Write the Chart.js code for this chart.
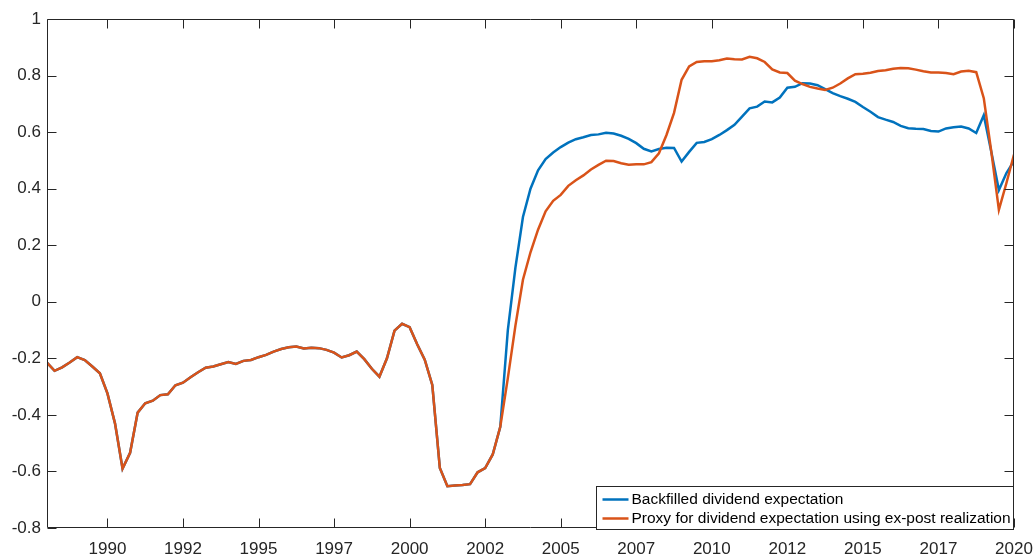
<!DOCTYPE html>
<html lang="es">
<head>
<meta charset="utf-8">
<title>Expectativa de dividendos</title>
<script src="https://cdn.jsdelivr.net/npm/chart.js@4.4.1/dist/chart.umd.min.js"></script>
<style>
  html, body { margin: 0; padding: 0; background: #fff; }
  #grafico { display: block; }
</style>
</head>
<body>
<canvas id="grafico" width="1034" height="555"></canvas>
<script>
// Serie trimestral desde 1988T1 hasta 2020T1
const anioInicio = 1988;
const anioFin = 2020;

// Expectativa de dividendos rellenada hacia atrás
const serieRellenada = [
    -0.215, -0.244, -0.232, -0.215, -0.196, -0.206, -0.229, -0.253,
    -0.324, -0.430, -0.590, -0.534, -0.392, -0.359, -0.350, -0.330,
    -0.327, -0.295, -0.286, -0.267, -0.249, -0.233, -0.229, -0.221,
    -0.213, -0.220, -0.209, -0.206, -0.196, -0.188, -0.176, -0.167,
    -0.161, -0.158, -0.165, -0.163, -0.164, -0.170, -0.180, -0.197,
    -0.189, -0.176, -0.203, -0.237, -0.265, -0.200, -0.102, -0.078,
    -0.090, -0.150, -0.205, -0.294, -0.588, -0.652, -0.650, -0.648,
    -0.645, -0.603, -0.588, -0.540, -0.442, -0.100, 0.120, 0.300,
    0.400, 0.465, 0.505, 0.528, 0.547, 0.563, 0.575, 0.582,
    0.590, 0.592, 0.598, 0.595, 0.587, 0.576, 0.561, 0.541,
    0.532, 0.540, 0.545, 0.544, 0.496, 0.530, 0.562, 0.565,
    0.575, 0.590, 0.607, 0.626, 0.655, 0.684, 0.690, 0.708,
    0.705, 0.722, 0.757, 0.760, 0.773, 0.772, 0.766, 0.752,
    0.738, 0.727, 0.718, 0.707, 0.689, 0.672, 0.653, 0.644,
    0.636, 0.622, 0.614, 0.612, 0.611, 0.604, 0.602, 0.613,
    0.617, 0.620, 0.613, 0.597, 0.660, 0.530, 0.395, 0.455,
    0.498
];

// Proxy con la realización ex-post
const serieProxy = [
    -0.215, -0.244, -0.232, -0.215, -0.196, -0.206, -0.229, -0.253,
    -0.324, -0.430, -0.590, -0.534, -0.392, -0.359, -0.350, -0.330,
    -0.327, -0.295, -0.286, -0.267, -0.249, -0.233, -0.229, -0.221,
    -0.213, -0.220, -0.209, -0.206, -0.196, -0.188, -0.176, -0.167,
    -0.161, -0.158, -0.165, -0.163, -0.164, -0.170, -0.180, -0.197,
    -0.189, -0.176, -0.203, -0.237, -0.265, -0.200, -0.102, -0.078,
    -0.090, -0.150, -0.205, -0.294, -0.588, -0.652, -0.650, -0.648,
    -0.645, -0.603, -0.588, -0.540, -0.442, -0.270, -0.085, 0.078,
    0.175, 0.255, 0.320, 0.357, 0.378, 0.410, 0.430, 0.447,
    0.468, 0.484, 0.499, 0.498, 0.490, 0.485, 0.486, 0.486,
    0.494, 0.525, 0.590, 0.668, 0.785, 0.832, 0.848, 0.851,
    0.851, 0.854, 0.860, 0.858, 0.857, 0.866, 0.861, 0.848,
    0.822, 0.811, 0.809, 0.782, 0.770, 0.760, 0.754, 0.749,
    0.757, 0.772, 0.790, 0.805, 0.806, 0.810, 0.816, 0.819,
    0.824, 0.827, 0.826, 0.821, 0.815, 0.811, 0.811, 0.809,
    0.805, 0.814, 0.817, 0.812, 0.720, 0.530, 0.325, 0.420,
    0.521
];

const etiquetasSeries = [
    'Backfilled dividend expectation',
    'Proxy for dividend expectation using ex-post realization'
];

// Marcas del eje x (cada 2.5 años) y sus etiquetas
const ticksX = [1990, 1992.5, 1995, 1997.5, 2000, 2002.5, 2005, 2007.5, 2010, 2012.5, 2015, 2017.5, 2020];
const etiquetasX = ['1990', '1992', '1995', '1997', '2000', '2002', '2005', '2007', '2010', '2012', '2015', '2017', '2020'];
const ticksY = [-0.8, -0.6, -0.4, -0.2, 0, 0.2, 0.4, 0.6, 0.8, 1];

const trimestres = serieProxy.map((_, i) => anioInicio + i / 4);

const colorEjes = '#262626';
const fuente = '"Liberation Sans", Arial, Helvetica, sans-serif';
const largoTick = 9;

// Marco de la caja y marcas hacia adentro en los cuatro lados
const pluginMarco = {
    id: 'marco',
    afterDatasetsDraw(chart) {
        const { ctx, chartArea: a, scales } = chart;
        const izq = Math.round(a.left) + 0.5;
        const der = Math.round(a.right) - 0.5;
        const arr = Math.round(a.top) + 0.5;
        const abj = Math.round(a.bottom) - 0.5;
        ctx.save();
        ctx.strokeStyle = colorEjes;
        ctx.lineWidth = 1;
        ctx.beginPath();
        ctx.rect(izq, arr, der - izq, abj - arr);
        ticksX.forEach(v => {
            const x = Math.round(scales.x.getPixelForValue(v)) + 0.5;
            ctx.moveTo(x, abj); ctx.lineTo(x, abj - largoTick);
            ctx.moveTo(x, arr); ctx.lineTo(x, arr + largoTick);
        });
        ticksY.forEach(v => {
            const y = Math.round(scales.y.getPixelForValue(v)) + 0.5;
            ctx.moveTo(izq, y); ctx.lineTo(izq + largoTick, y);
            ctx.moveTo(der, y); ctx.lineTo(der - largoTick, y);
        });
        ctx.stroke();
        ctx.restore();
    }
};

// Leyenda dentro del área, esquina inferior derecha
const pluginLeyenda = {
    id: 'leyenda',
    afterDraw(chart) {
        const { ctx, chartArea: a } = chart;
        ctx.save();
        ctx.font = '15.5px ' + fuente;
        const anchoTexto = Math.max(...chart.data.datasets.map(d => ctx.measureText(d.label).width));
        const ancho = Math.round(35 + anchoTexto + 3);
        const alto = 43;
        const der = Math.round(a.right) - 0.5;
        const izq = der - ancho;
        const arr = Math.round(a.bottom) - 42 + 0.5;
        ctx.fillStyle = '#ffffff';
        ctx.fillRect(izq, arr, ancho, alto);
        ctx.strokeStyle = colorEjes;
        ctx.lineWidth = 1;
        ctx.strokeRect(izq, arr, ancho, alto);
        chart.data.datasets.forEach((d, i) => {
            const y = arr + 13 + i * 19;
            ctx.strokeStyle = d.borderColor;
            ctx.lineWidth = 2.5;
            ctx.beginPath();
            ctx.moveTo(izq + 6, y);
            ctx.lineTo(izq + 32, y);
            ctx.stroke();
            ctx.fillStyle = '#000000';
            ctx.textBaseline = 'middle';
            ctx.fillText(d.label, izq + 35, y + 0.5);
        });
        ctx.restore();
    }
};

const ctxGrafico = document.getElementById('grafico').getContext('2d');
new Chart(ctxGrafico, {
    type: 'line',
    data: {
        datasets: [
            {
                label: etiquetasSeries[0],
                data: trimestres.map((t, i) => ({ x: t, y: serieRellenada[i] })),
                borderColor: '#0072BD',
                borderWidth: 2.5,
                pointRadius: 0,
                tension: 0,
                order: 1
            },
            {
                label: etiquetasSeries[1],
                data: trimestres.map((t, i) => ({ x: t, y: serieProxy[i] })),
                borderColor: '#D95319',
                borderWidth: 2.5,
                pointRadius: 0,
                tension: 0,
                order: 0
            }
        ]
    },
    options: {
        responsive: false,
        animation: false,
        devicePixelRatio: 1,
        events: [],
        layout: { padding: { top: 19, right: 20, bottom: 0, left: 0 } },
        plugins: {
            legend: { display: false },
            tooltip: { enabled: false }
        },
        scales: {
            x: {
                type: 'linear',
                min: anioInicio,
                max: anioFin,
                grid: { display: false, drawTicks: false },
                border: { display: false },
                afterBuildTicks: scale => { scale.ticks = ticksX.map(v => ({ value: v })); },
                afterFit: scale => {
                    scale.height = 27;
                    // la etiqueta de 2020 cabe en el margen derecho
                    scale.paddingLeft = 0;
                    scale.paddingRight = 0;
                },
                ticks: {
                    autoSkip: false,
                    maxRotation: 0,
                    padding: 11,
                    color: colorEjes,
                    font: { family: fuente, size: 17 },
                    callback: (v, i) => etiquetasX[i]
                }
            },
            y: {
                min: -0.8,
                max: 1,
                grid: { display: false, drawTicks: false },
                border: { display: false },
                afterBuildTicks: scale => { scale.ticks = ticksY.map(v => ({ value: v })); },
                afterFit: scale => {
                    scale.width = 47;
                    scale.paddingTop = 0;
                    scale.paddingBottom = 0;
                },
                ticks: {
                    padding: 6,
                    color: colorEjes,
                    font: { family: fuente, size: 17 },
                    callback: v => String(Math.round(v * 10) / 10)
                }
            }
        }
    },
    plugins: [pluginMarco, pluginLeyenda]
});
</script>
</body>
</html>
